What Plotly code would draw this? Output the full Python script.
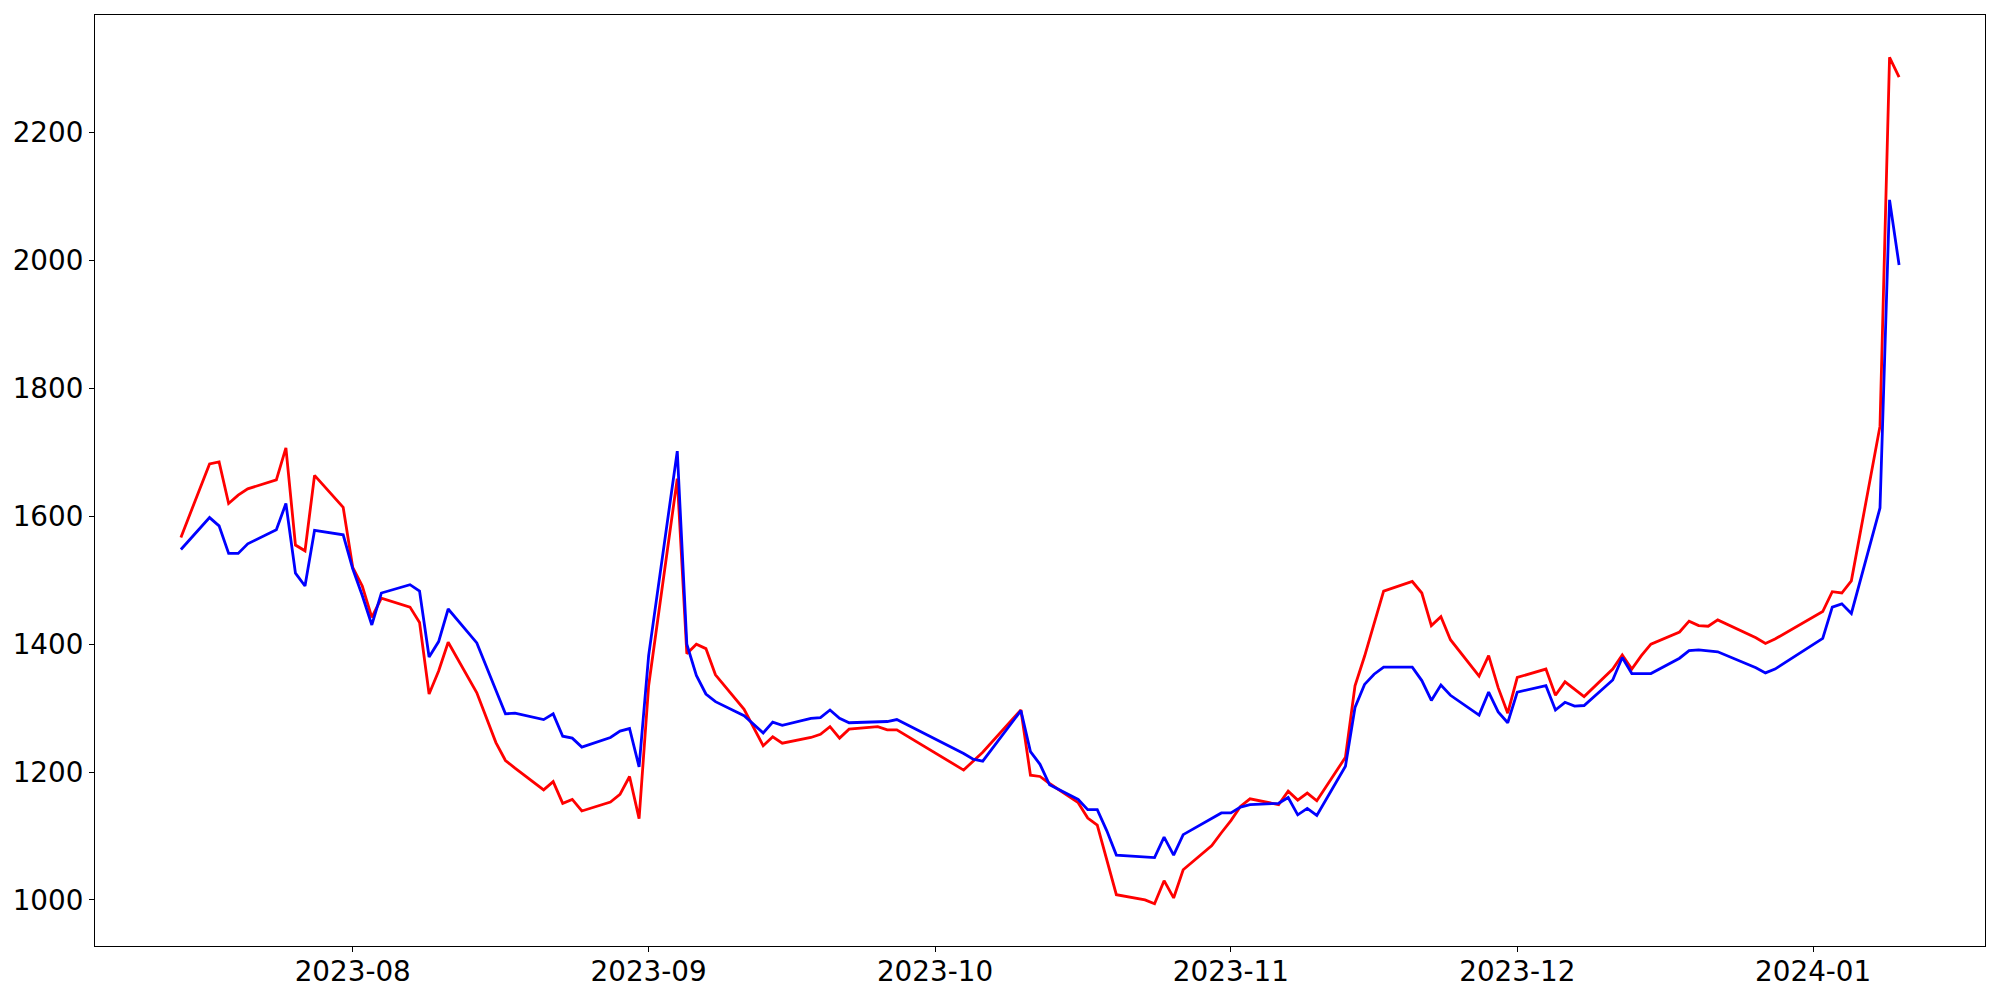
import plotly.graph_objs as go
import pandas as pd

# Trading days (KRX calendar) per month
jul_days = [14, 17, 18, 19, 20, 21, 24, 25, 26, 27, 28, 31]
aug_days = [1, 2, 3, 4, 7, 8, 9, 10, 11, 14, 16, 17, 18, 21, 22, 23, 24, 25, 28, 29, 30, 31]
sep_days = [1, 4, 5, 6, 7, 8, 11, 12, 13, 14, 15, 18, 19, 20, 21, 22, 25, 26, 27]
oct_days = [4, 5, 6, 10, 11, 12, 13, 16, 17, 18, 19, 20, 23, 24, 25, 26, 27, 30, 31]
nov_days = [1, 2, 3, 6, 7, 8, 9, 10, 13, 14, 15, 16, 17, 20, 21, 22, 23, 24, 27, 28, 29, 30]
dec_days = [1, 4, 5, 6, 7, 8, 11, 12, 13, 14, 15, 18, 19, 20, 21, 22, 26, 27, 28]
jan_days = [2, 3, 4, 5, 8, 9, 10]

red_values = [
    1567, 1682, 1685, 1620, 1633, 1643, 1657, 1707, 1555, 1546, 1664, 1614,
    1520, 1491, 1442, 1472, 1458, 1434, 1322, 1358, 1403, 1324, 1246, 1218,
    1206, 1172, 1185, 1151, 1157, 1139, 1153, 1165, 1193, 1127,
    1335, 1659, 1385, 1400, 1393, 1352, 1298, 1270, 1241, 1255, 1245, 1254,
    1259, 1271, 1253, 1267, 1271, 1266, 1266,
    1203, 1217, 1231, 1297, 1195, 1193, 1182, 1152, 1128, 1117, 1063, 1008,
    1000, 994, 1030, 1003, 1047, 1085, 1105,
    1124, 1146, 1158, 1149, 1170, 1156, 1167, 1155, 1223, 1335, 1381, 1432,
    1483, 1498, 1480, 1429, 1443, 1407, 1350, 1382, 1332, 1292,
    1348, 1361, 1320, 1341, 1330, 1318, 1361, 1383, 1361, 1382, 1400, 1419,
    1436, 1429, 1428, 1438, 1410, 1401, 1408,
    1451, 1482, 1480, 1499, 1741, 2318, 2287,
]

blue_values = [
    1548, 1598, 1585, 1542, 1542, 1557, 1579, 1620, 1511, 1491, 1578, 1571,
    1518, 1476, 1430, 1480, 1493, 1483, 1380, 1404, 1455, 1402, 1328, 1291,
    1292, 1282, 1291, 1256, 1253, 1239, 1254, 1264, 1268, 1208,
    1382, 1702, 1400, 1351, 1322, 1310, 1288, 1275, 1261, 1278, 1273, 1284,
    1285, 1297, 1284, 1277, 1278, 1279, 1282,
    1229, 1220, 1217, 1296, 1232, 1212, 1180, 1157, 1141, 1141, 1108, 1070,
    1067, 1066, 1098, 1070, 1102, 1127, 1136,
    1136, 1145, 1149, 1151, 1160, 1133, 1143, 1132, 1209, 1301, 1337, 1353,
    1364, 1364, 1343, 1312, 1336, 1320, 1289, 1325, 1294, 1277,
    1325, 1335, 1297, 1309, 1303, 1304, 1344, 1379, 1354, 1354, 1354, 1378,
    1390, 1391, 1389, 1388, 1363, 1355, 1361,
    1409, 1458, 1463, 1448, 1613, 2095, 1993,
]

month_ticks = ['2023-08-01', '2023-09-01', '2023-10-01', '2023-11-01', '2023-12-01', '2024-01-01']
month_labels = ['2023-08', '2023-09', '2023-10', '2023-11', '2023-12', '2024-01']
y_ticks = [1000, 1200, 1400, 1600, 1800, 2000, 2200]

dates = ([f'2023-07-{d:02d}' for d in jul_days] + [f'2023-08-{d:02d}' for d in aug_days]
         + [f'2023-09-{d:02d}' for d in sep_days] + [f'2023-10-{d:02d}' for d in oct_days]
         + [f'2023-11-{d:02d}' for d in nov_days] + [f'2023-12-{d:02d}' for d in dec_days]
         + [f'2024-01-{d:02d}' for d in jan_days])
dates = pd.to_datetime(dates)

# matplotlib-style 5% margins
span = dates[-1] - dates[0]
x_range = [dates[0] - span * 0.05, dates[-1] + span * 0.05]
lo = min(min(red_values), min(blue_values))
hi = max(max(red_values), max(blue_values))
y_range = [lo - (hi - lo) * 0.05, hi + (hi - lo) * 0.05]

fig = go.Figure(
    layout={'width': 2000,
            'height': 1000,
            'showlegend': False,
            }
)

fig.add_trace(go.Scatter(
    x=dates,
    y=red_values,
    mode='lines',
    line=dict(width=2.8, color='#ff0000'),
))
fig.add_trace(go.Scatter(
    x=dates,
    y=blue_values,
    mode='lines',
    line=dict(width=2.8, color='#0000ff'),
))

axis_style = dict(showline=True, linecolor='black', linewidth=1.1, mirror=True,
                  ticks='outside', ticklen=5, tickwidth=1.1, tickcolor='black',
                  automargin=False,
                  showgrid=False, zeroline=False,
                  tickfont=dict(family='DejaVu Sans', size=27.8, color='black'))

fig.update_layout(plot_bgcolor='white',
                  paper_bgcolor='white',
                  margin=dict(l=95, r=15, t=15, b=54),
                  xaxis=dict(range=x_range, tickvals=pd.to_datetime(month_ticks),
                             ticktext=month_labels, ticklabelstandoff=-4, **axis_style),
                  yaxis=dict(range=y_range, tickvals=y_ticks, ticklabelstandoff=0, **axis_style),
                  )

fig.write_html("out.html", config={'displayModeBar': False},
               post_script="document.body.style.margin='0';")
